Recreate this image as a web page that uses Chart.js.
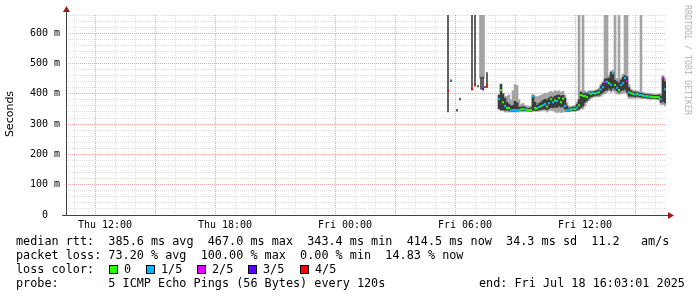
<!DOCTYPE html>
<html>
<head>
<meta charset="utf-8">
<script src="https://cdn.jsdelivr.net/npm/chart.js@4.4.1/dist/chart.umd.min.js"></script>
<style>
body{margin:0;background:#fff}
#wrap{position:relative;width:697px;height:297px;overflow:hidden;background:#fff}
.t{position:absolute;font-family:'DejaVu Sans Mono',monospace;font-size:11.8px;line-height:14px;white-space:pre;color:#000}
.box{position:absolute;width:7px;height:7px;border:1px solid #000}
#ylab{position:absolute;left:-40px;top:107px;width:100px;height:14px;line-height:14px;text-align:center;font-family:'DejaVu Sans',sans-serif;font-size:11px;color:#000;transform:rotate(-90deg)}
#mark{position:absolute;left:692px;top:5px;font-family:'DejaVu Sans Mono',monospace;font-size:8.3px;line-height:9px;white-space:pre;color:#b4b4b4;transform:rotate(90deg);transform-origin:0 0}
</style>
</head>
<body>
<div id="wrap">
<canvas id="chart" width="697" height="297"></canvas>
<div id="ylab">Seconds</div>
<div id="mark">RRDTOOL / TOBI OETIKER</div>
<div class="t" style="left:16px;top:234px">median rtt:  385.6 ms avg  467.0 ms max  343.4 ms min  414.5 ms now  34.3 ms sd  11.2   am/s</div>
<div class="t" style="left:16px;top:248px">packet loss: 73.20 % avg  100.00 % max  0.00 % min  14.83 % now</div>
<div class="t" style="left:16px;top:262px">loss color:</div>
<div id="lossLegend"></div>
<div class="t" style="left:16px;top:276px">probe:       5 ICMP Echo Pings (56 Bytes) every 120s</div>
<div class="t" style="left:479px;top:276px">end: Fri Jul 18 16:03:01 2025</div>
</div>
<script>
// time in hours since Thu 00:00, values in ms
const hours = [29.15, 29.3, 29.6, 29.75, 30.35, 30.5, 30.65, 30.8, 30.9, 31.0, 31.1,
  31.7, 31.8, 31.9,
  32.0, 32.1, 32.2, 32.3, 32.4, 32.5, 32.6, 32.7, 32.8, 32.9,
  33.0, 33.1, 33.2, 33.3, 33.4, 33.5, 33.6, 33.7, 33.8, 33.9,
  34.0, 34.1, 34.2, 34.3, 34.4, 34.5, 34.6, 34.7, 34.8, 34.9,
  35.0, 35.1, 35.2, 35.3, 35.4, 35.5, 35.6, 35.7, 35.8, 35.9,
  36.0, 36.1, 36.2, 36.3, 36.4, 36.5, 36.6, 36.7, 36.8, 36.9,
  37.0, 37.1, 37.2, 37.3, 37.4, 37.5, 37.6, 37.7, 37.8, 37.9,
  38.0, 38.1, 38.2, 38.3, 38.4, 38.5, 38.6, 38.7, 38.8, 38.9,
  39.0, 39.1, 39.2, 39.3, 39.4, 39.5, 39.6, 39.7, 39.8, 39.9,
  40.0];

const median = [412, null, null, null, 415, 432, null, null, 415, null, 428,
  383, 412, 372,
  360, 353, 353, 346, 346, 346, 346, 347, 348, 350,
  348, 347, 346, 347, 392, 353, 352, 356, 359, 362,
  366, 358, 369, 382, 372, 378, 376, 386, 372, 384,
  360, 346, 347, 348, 350, 349, 354, 362, 396, 393,
  393, 389, 402, 400, 402, 401, 403, 405, 414, 422,
  438, 440, 435, 430, 468, 429, 420, 412, 429, 435,
  452, 442, 405, 402, 400, 398, 400, 396, 396, 394,
  392, 392, 391, 390, 389, 389, 389, 388, 383, 452,
  415];

// lost pings out of 5
const loss = [4, 0, 0, 0, 4, 4, 0, 0, 3, 0, 4,
  1, 0, 0,
  1, 0, 0, 1, 1, 1, 1, 1, 0, 0,
  1, 0, 0, 0, 1, 0, 0, 1, 0, 1,
  1, 0, 1, 0, 1, 0, 1, 0, 0, 0,
  1, 1, 1, 0, 1, 0, 1, 0, 0, 0,
  0, 0, 1, 0, 1, 0, 1, 0, 1, 1,
  2, 1, 0, 1, 1, 0, 1, 0, 1, 1,
  1, 2, 1, 0, 0, 1, 0, 1, 1, 0,
  1, 0, 1, 0, 0, 0, 0, 0, 1, 2,
  1];

const darkLo = [340, 440, 343, 380, 415, 425, 423, 415, 415, 420, 420,
  350, 346, 346,
  346, 346, 345, 343, 343, 343, 343, 344, 344, 345,
  344, 344, 343, 343, 346, 346, 345, 347, 348, 350,
  350, 348, 352, 355, 354, 356, 355, 360, 356, 358,
  350, 343, 343, 344, 345, 344, 347, 350, 355, 360,
  372, 378, 385, 390, 392, 394, 395, 396, 400, 405,
  410, 412, 418, 412, 420, 415, 410, 405, 410, 412,
  415, 405, 392, 392, 392, 390, 392, 390, 389, 388,
  387, 386, 386, 385, 385, 385, 384, 384, 372, 375,
  370];

const darkHi = [660, 446, 349, 386, 660, 660, 428, 455, 455, 425, 470,
  396, 432, 400,
  385, 372, 366, 360, 362, 375, 370, 356, 356, 358,
  355, 352, 352, 354, 394, 372, 362, 368, 372, 378,
  382, 380, 385, 390, 386, 392, 395, 396, 392, 395,
  385, 360, 352, 354, 356, 356, 365, 380, 405, 400,
  402, 400, 406, 405, 406, 408, 410, 412, 425, 435,
  448, 450, 452, 470, 470, 445, 440, 435, 445, 455,
  460, 455, 420, 410, 406, 406, 405, 402, 402, 400,
  398, 398, 397, 396, 395, 395, 395, 396, 392, 455,
  440];

const greyLo = [null, null, null, null, null, null, null, 450, 450, null, null,
  null, null, null,
  340, 340, 340, 340, 340, 340, 340, 340, 342, 342,
  342, 342, 341, 341, 342, 342, 342, 343, 343, 345,
  345, 340, 345, 346, 345, 340, 338, 340, 338, 340,
  340, 341, 341, 342, 342, 342, 344, 345, 350, 350,
  360, 372, 378, 385, 388, 390, 390, 390, 392, 398,
  400, 405, 410, 405, 410, 405, 400, 398, 400, 402,
  405, 398, 385, 385, 386, 385, 386, 386, 385, 384,
  384, 383, 383, 382, 382, 382, 380, 380, 365, 365,
  360];

const greyHi = [null, null, null, null, null, null, null, 660, 660, null, null,
  null, null, null,
  390, 392, 396, 380, 410, 430, 428, 380, 365, 368,
  362, 360, 358, 360, 398, 392, 390, 392, 395, 398,
  402, 400, 405, 408, 405, 410, 408, 410, 405, 408,
  395, 370, 358, 358, 360, 362, 372, 660, 410, 660,
  410, 405, 410, 410, 410, 412, 414, 418, 432, 440,
  660, 660, 460, 475, 478, 660, 450, 660, 450, 465,
  660, 660, 430, 415, 412, 410, 410, 408, 660, 405,
  403, 402, 402, 400, 400, 398, 398, 400, 398, 460,
  450];

const lossColors = ['#26ff00', '#00b8ff', '#dd00ff', '#5e00ff', '#ff0000'];
const lossNames = ['0', '1/5', '2/5', '3/5', '4/5'];
const xTickHours = [12, 18, 24, 30, 36];
const xTickLabels = ['Thu 12:00', 'Thu 18:00', 'Fri 00:00', 'Fri 06:00', 'Fri 12:00'];
const startHour = 10.05, endHour = 40.05;
const sparseUntil = 31.5; // scattered samples before the steady run
const yMax = 660;

// legend boxes for loss colours
const boxX = [109, 146, 197, 248, 300];
const leg = document.getElementById('lossLegend');
lossNames.forEach(function(name, i) {
  leg.insertAdjacentHTML('beforeend',
    `<div class="box" style="left:${boxX[i]}px;top:265px;background:${lossColors[i]}"></div>` +
    `<div class="t" style="left:${boxX[i] + 15}px;top:262px">${name}</div>`);
});

function bars(lo, hi, early) {
  let out = [];
  hours.forEach(function(h, i) {
    if (lo[i] != null && (h < sparseUntil) === early) out.push({x: h, y: [lo[i], hi[i]]});
  });
  return out;
}

let medPts = [], medCol = [];
hours.forEach(function(h, i) {
  if (median[i] != null) {
    medPts.push({x: h, y: median[i]});
    medCol.push(lossColors[loss[i]]);
  }
});

const minorGrid = '#dcdcdc', majorGrid = '#eaa8a8';

// axis lines with the little red arrows
const axisArrows = {
  id: 'axisArrows',
  afterDraw(chart) {
    const ctx = chart.ctx, a = chart.chartArea;
    ctx.save();
    ctx.strokeStyle = '#404040';
    ctx.lineWidth = 1;
    ctx.beginPath();
    ctx.moveTo(a.left + 0.5, a.bottom + 1);
    ctx.lineTo(a.left + 0.5, a.top - 4);
    ctx.moveTo(a.left - 4, a.bottom + 0.5);
    ctx.lineTo(a.right + 3, a.bottom + 0.5);
    ctx.stroke();
    ctx.fillStyle = '#9c1c1c';
    ctx.beginPath();
    ctx.moveTo(a.left - 3, a.top - 3);
    ctx.lineTo(a.left + 4, a.top - 3);
    ctx.lineTo(a.left + 0.5, a.top - 9);
    ctx.closePath();
    ctx.fill();
    ctx.beginPath();
    ctx.moveTo(a.right + 2, a.bottom - 3);
    ctx.lineTo(a.right + 2, a.bottom + 4);
    ctx.lineTo(a.right + 8, a.bottom + 0.5);
    ctx.closePath();
    ctx.fill();
    ctx.restore();
  }
};

const tickFont = {family: "'DejaVu Sans Mono', monospace", size: 10};

new Chart(document.getElementById('chart'), {
  type: 'line',
  data: {
    datasets: [
      {
        type: 'line', data: medPts, showLine: false,
        pointStyle: 'rect', pointRadius: 1.5, pointHoverRadius: 1.5,
        pointBackgroundColor: medCol, pointBorderWidth: 0, order: 0
      },
      {
        type: 'bar', data: bars(darkLo, darkHi, true), backgroundColor: '#444444',
        barThickness: 1, grouped: false, borderWidth: 0, order: 1
      },
      {
        type: 'bar', data: bars(darkLo, darkHi, false), backgroundColor: '#3c3c3c',
        barThickness: 2, grouped: false, borderWidth: 0, order: 1
      },
      {
        type: 'bar', data: bars(greyLo, greyHi, true), backgroundColor: '#a4a4a4',
        barThickness: 3, grouped: false, borderWidth: 0, order: 2
      },
      {
        type: 'bar', data: bars(greyLo, greyHi, false), backgroundColor: '#a4a4a4',
        barThickness: 2, grouped: false, borderWidth: 0, order: 2
      }
    ]
  },
  options: {
    responsive: false,
    animation: false,
    events: [],
    layout: {padding: {left: 0, top: 15, right: 31, bottom: 0}},
    plugins: {legend: {display: false}, tooltip: {enabled: false}},
    scales: {
      x: {
        type: 'linear', min: startHour, max: endHour, offset: false,
        afterBuildTicks: function(s) {
          let t = [];
          for (let h = 11; h <= 40; h++) t.push({value: h});
          s.ticks = t;
        },
        afterFit: function(s) { s.height = 82; },
        ticks: {
          autoSkip: false, maxRotation: 0, padding: 4, color: '#000', font: tickFont,
          callback: function(v) {
            let i = xTickHours.indexOf(v);
            return i >= 0 ? xTickLabels[i] : '';
          }
        },
        grid: {
          drawTicks: false,
          color: function(c) {
            if (!c.tick) return minorGrid;
            return c.tick.value % 3 === 0 ? majorGrid : minorGrid;
          }
        },
        border: {display: false, color: minorGrid, dash: [1, 1]}
      },
      y: {
        min: 0, max: yMax,
        afterFit: function(s) { s.width = 66; },
        ticks: {
          stepSize: 20, autoSkip: false, padding: 6, color: '#000', font: tickFont,
          callback: function(v) {
            if (v % 100 !== 0) return '';
            return v === 0 ? '0  ' : v + ' m';
          }
        },
        grid: {
          drawTicks: false,
          color: function(c) {
            if (!c.tick) return minorGrid;
            return c.tick.value % 100 === 0 ? majorGrid : minorGrid;
          }
        },
        border: {display: false, color: minorGrid, dash: [1, 1]}
      }
    }
  },
  plugins: [axisArrows]
});
</script>
</body>
</html>
